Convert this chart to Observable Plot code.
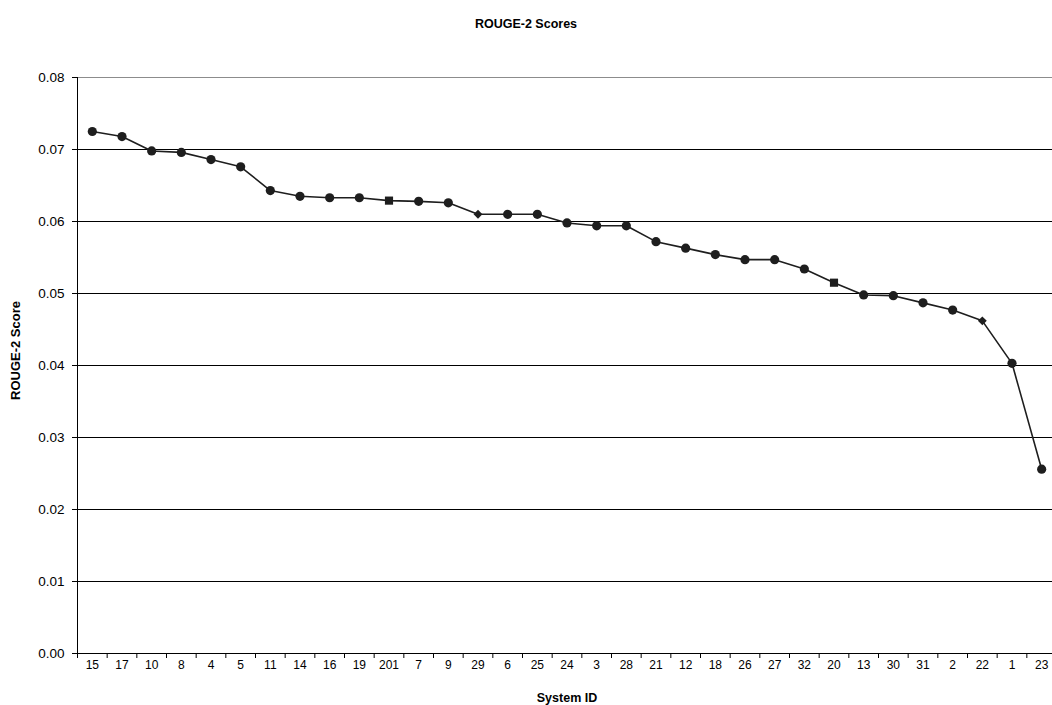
<!DOCTYPE html>
<html>
<head>
<meta charset="utf-8">
<script src="https://cdn.jsdelivr.net/npm/d3@7"></script>
<script src="https://cdn.jsdelivr.net/npm/@observablehq/plot@0.6"></script>
<style>
  html, body { margin: 0; padding: 0; background: #fff; overflow: hidden; }
  #title { box-sizing: border-box; height: 44px; padding-top: 17px; line-height: 16px;
           text-align: center; font: bold 12.5px "Liberation Sans", Arial, sans-serif; color: #000; width: 1052px; }
</style>
</head>
<body>
<div id="title">ROUGE-2 Scores</div>
<div id="chart"></div>
<script>
const ids = ["15","17","10","8","4","5","11","14","16","19","201","7","9","29","6","25","24","3","28","21","12","18","26","27","32","20","13","30","31","2","22","1","23"];
const scores = [0.0725,0.0718,0.0698,0.0696,0.0686,0.0676,0.0643,0.0635,0.0633,0.0633,0.0629,0.0628,0.0626,0.0610,0.0610,0.0610,0.0598,0.0594,0.0594,0.0572,0.0563,0.0554,0.0547,0.0547,0.0534,0.0515,0.0498,0.0497,0.0487,0.0477,0.0462,0.0403,0.0256];
const markers = ["circle","circle","circle","circle","circle","circle","circle","circle","circle","circle","square","circle","circle","diamond","circle","circle","circle","circle","circle","circle","circle","circle","circle","circle","circle","square","circle","circle","circle","circle","diamond","circle","circle"];
const yTicks = [0, 0.01, 0.02, 0.03, 0.04, 0.05, 0.06, 0.07, 0.08];

const data = ids.map((id, i) => ({id, score: scores[i], marker: markers[i]}));

const W = 1052, H = 661;
const mL = 77, mR = -4, mT = 33, mB = 52;
const step = (W - mR - mL) / ids.length;
const ink = "#1e1e1e";
const font = "Liberation Sans, Arial, sans-serif";

const chart = Plot.plot({
  width: W, height: H,
  marginLeft: mL, marginRight: mR, marginTop: mT, marginBottom: mB,
  style: {fontFamily: font, color: "#000", background: "#fff", overflow: "hidden"},
  x: {type: "point", domain: ids, padding: 0.5, round: false, label: null},
  y: {domain: [0, 0.08], label: null},
  marks: [
    Plot.ruleY(yTicks.filter(v => v > 0 && v < 0.08), {stroke: "#000", strokeWidth: 1}),
    Plot.ruleY([0.08], {stroke: "#8c8c8c", strokeWidth: 1}),
    Plot.ruleY([0], {stroke: "#000", strokeWidth: 1}),
    Plot.ruleX([ids[0]], {dx: -step / 2, y1: 0.08, y2: 0, stroke: "#000", strokeWidth: 1}),
    Plot.ruleX(ids, {x: d => d, dx: -step / 2, y1: 0, y2: 0, insetBottom: -5, stroke: "#000", strokeWidth: 1}),
    Plot.axisY({ticks: yTicks, tickFormat: d3.format(".2f"), tickSize: 5, tickPadding: 8, fontSize: 13.5, label: null}),
    Plot.axisX({tickSize: 0, tickPadding: 7, fontSize: 12, label: null}),
    Plot.line(data, {x: "id", y: "score", stroke: ink, strokeWidth: 1.6}),
    Plot.dot(data.filter(d => d.marker === "circle"), {x: "id", y: "score", r: 4.6, fill: ink, stroke: "none"}),
    Plot.dot(data.filter(d => d.marker === "square"), {x: "id", y: "score", r: 4.6, symbol: "square", fill: ink, stroke: "none"}),
    Plot.dot(data.filter(d => d.marker === "diamond"), {x: "id", y: "score", r: 4, symbol: "diamond2", fill: ink, stroke: "none"}),
    Plot.text(["ROUGE-2 Score"], {frameAnchor: "left", textAnchor: "middle", lineAnchor: "middle", dx: -62, dy: -15, rotate: -90, fontWeight: "bold", fontSize: 13, fill: "#000"}),
    Plot.text(["System ID"], {frameAnchor: "bottom", textAnchor: "middle", lineAnchor: "middle", dy: 44, fontWeight: "bold", fontSize: 12.5, fill: "#000"})
  ]
});
document.getElementById("chart").appendChild(chart);
</script>
</body>
</html>
